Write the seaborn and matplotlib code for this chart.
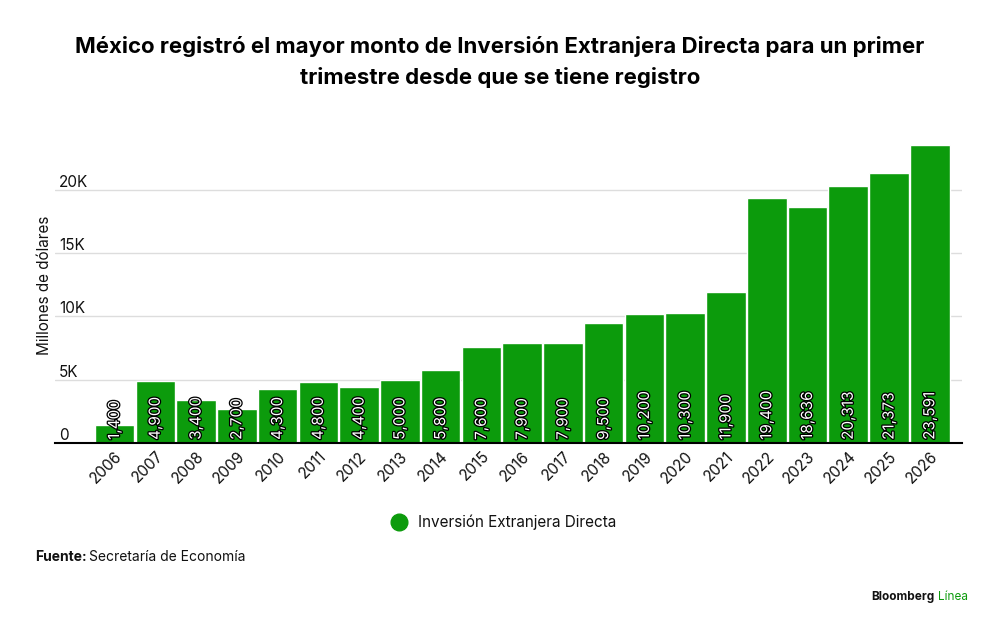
import matplotlib
matplotlib.use("Agg")
import matplotlib.pyplot as plt
import matplotlib.patheffects as pe
from matplotlib.lines import Line2D
import seaborn as sns
import pandas as pd

years = ["2006", "2007", "2008", "2009", "2010", "2011", "2012", "2013", "2014", "2015", "2016",
         "2017", "2018", "2019", "2020", "2021", "2022", "2023", "2024", "2025", "2026"]
ied = [1400, 4900, 3400, 2700, 4300, 4800, 4400, 5000, 5800, 7600, 7900,
       7900, 9500, 10200, 10300, 11900, 19400, 18636, 20313, 21373, 23591]
y_ticks = [0, 5000, 10000, 15000, 20000]
y_tick_labels = ["0", "5K", "10K", "15K", "20K"]

green = "#0c9b0c"
sns.set_style("white")
plt.rcParams["font.family"] = ["Inter", "DejaVu Sans"]
plt.rcParams["text.color"] = "#111111"
plt.rcParams["xtick.color"] = "#111111"
plt.rcParams["ytick.color"] = "#111111"
plt.rcParams["axes.labelcolor"] = "#111111"

df = pd.DataFrame({"year": years, "ied": ied})

fig = plt.figure(figsize=(10, 6.24), dpi=100)
ax = fig.add_axes([0.055, 0.29, 0.907, 0.507])
sns.barplot(data=df, x="year", y="ied", color=green, saturation=1, width=0.97,
            edgecolor="white", linewidth=1, ax=ax)

ax.set_xlim(-1.46, 20.79)
ax.set_ylim(0, 25000)
ax.set_yticks(y_ticks)
ax.set_yticklabels(y_tick_labels)
ax.grid(axis="y", color="#dddddd", linewidth=1)
ax.set_axisbelow(True)
for s in ["top", "right", "left"]:
    ax.spines[s].set_visible(False)
ax.spines["bottom"].set_color("black")
ax.spines["bottom"].set_linewidth(1.5)

ax.tick_params(axis="y", length=0, pad=-3, labelsize=11)
for lab in ax.get_yticklabels():
    lab.set_horizontalalignment("left")
    lab.set_verticalalignment("bottom")
ax.tick_params(axis="x", length=0, pad=4, labelsize=11)
plt.setp(ax.get_xticklabels(), rotation=45, ha="right", rotation_mode="anchor")

ax.set_xlabel("")
ax.set_ylabel("Millones de dólares", fontsize=11, labelpad=2)

for i, v in enumerate(ied):
    ax.text(i, 250, f"{v:,}", rotation=90, ha="center", va="bottom", fontsize=11,
            color="white", path_effects=[pe.withStroke(linewidth=1.8, foreground="black")])

handle = Line2D([], [], marker="o", color="none", markerfacecolor=green,
                markeredgecolor=green, markersize=12)
fig.legend(handles=[handle], labels=["Inversión Extranjera Directa"], loc="center",
           bbox_to_anchor=(0.5, 0.163), frameon=False, fontsize=11, handletextpad=0.3)

fig.text(0.5, 0.9, "México registró el mayor monto de Inversión Extranjera Directa para un primer\n"
         "trimestre desde que se tiene registro", ha="center", va="center",
         fontsize=16, fontweight="bold", linespacing=1.6, color="black")

fig.text(0.035, 0.107, "Fuente:", fontsize=10, fontweight="bold", va="center")
fig.text(0.089, 0.107, "Secretaría de Economía", fontsize=10, va="center")
fig.text(0.935, 0.043, "Bloomberg", fontsize=8.5, fontweight="bold", ha="right", va="center")
fig.text(0.938, 0.043, "Línea", fontsize=8.5, color=green, ha="left", va="center")

fig.savefig("out.png", dpi=100, facecolor="white")
